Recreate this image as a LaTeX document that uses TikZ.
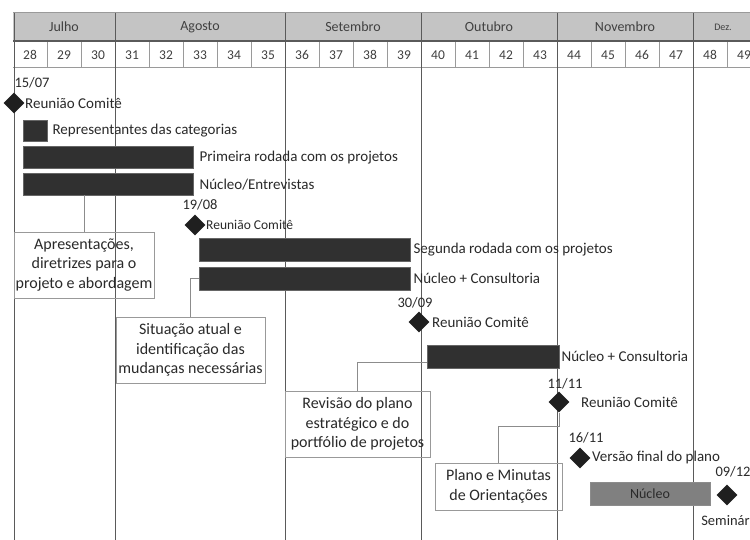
\documentclass[tikz,border=0pt]{standalone}
\usepackage{fontspec}
\setmainfont{Carlito}
\usetikzlibrary{shapes.geometric}
\definecolor{monthfill}{HTML}{C4C4C4}
\definecolor{txt}{HTML}{2A2A2A}
\definecolor{barcol}{HTML}{303030}
\definecolor{greybar}{HTML}{808080}
\definecolor{gridc}{HTML}{5A5A5A}
\definecolor{lightgrid}{HTML}{9A9A9A}
\begin{document}
\begin{tikzpicture}[x=1pt,y=-1pt,
  ms/.style={diamond, fill=black!88, minimum size=21pt, inner sep=0pt},
  bar/.style={fill=barcol, draw=black!60, anchor=north west, inner sep=0pt},
  lbl/.style={anchor=west, font=\fontsize{15}{17}\selectfont, text=txt, inner sep=1pt},
  datelbl/.style={font=\fontsize{14.5}{16}\selectfont, text=txt, inner sep=0pt},
  callout/.style={draw=black!40, align=center, font=\fontsize{16}{19.5}\selectfont, text=txt, inner sep=0pt},
  conn/.style={draw=black!45, line width=0.9pt},
  hdr/.style={font=\fontsize{14}{16}\selectfont, text=black!75, inner sep=0pt},
  chartline/.style={draw=gridc, line width=0.9pt}
]
\useasboundingbox (0,0) rectangle (750,540);
\fill[white] (0,0) rectangle (750,540);

% header
\fill[monthfill] (13,13) rectangle (770,41);
\foreach \i in {1,...,21}{
  \draw[lightgrid, line width=0.7pt] ({13+34*\i},41) -- ({13+34*\i},68);
}
\foreach \i [evaluate=\i as \w using int(28+\i)] in {0,...,21}{
  \node[hdr, font=\fontsize{13.5}{15}\selectfont] (w\i) at ({30+34*\i},55) {\w};
}
\draw[lightgrid, line width=1pt] (13,13) -- (770,13);
\draw[gridc, line width=1.3pt] (13,41) -- (770,41);
\draw[lightgrid, line width=1pt] (13,68) -- (770,68);

% month separators / chart lines
\foreach \x in {14,115,285,421,557,693}{
  \draw[chartline] (\x,13) -- (\x,540);
}
\node[hdr] (mjul) at (64,27) {Julho};
\node[hdr] (mago) at (200,27) {Agosto};
\node[hdr] (mset) at (353,27) {Setembro};
\node[hdr] (mout) at (489,27) {Outubro};
\node[hdr] (mnov) at (625,27) {Novembro};
\node[hdr, font=\fontsize{10}{12}\selectfont] (mdez) at (723,27) {Dez.};

% milestone 15/07
\node[datelbl] (d1) at (32,83) {15/07};
\node[ms] (m1) at (14,103) {};
\node[lbl] (t1) at (24,103) {Reunião Comitê};

% first bars
\node[bar, minimum width=24pt, minimum height=21pt] (b1) at (23,120) {};
\node[lbl] (tb1) at ([xshift=4pt]b1.east) {Representantes das categorias};
\node[bar, minimum width=170pt, minimum height=22pt] (b2) at (23,146) {};
\node[lbl] (tb2) at ([xshift=5pt]b2.east) {Primeira rodada com os projetos};
\node[bar, minimum width=170pt, minimum height=22pt] (b3) at (23,173) {};
\node[lbl] (tb3) at ([xshift=5pt]b3.east) {Núcleo/Entrevistas};

% milestone 19/08
\node[datelbl] (d2) at (200,205) {19/08};
\node[ms] (m2) at (195,225) {};
\node[lbl, font=\fontsize{13.5}{15}\selectfont] (t2) at (205,225) {Reunião Comitê};

\node[bar, minimum width=211pt, minimum height=23pt] (b4) at (199,238) {};
\node[lbl] (tb4) at ([xshift=2pt]b4.east) {Segunda rodada com os projetos};
\node[bar, minimum width=211pt, minimum height=23pt] (b5) at (199,267) {};
\node[lbl] (tb5) at ([xshift=2pt]b5.east) {Núcleo + Consultoria};

% milestone 30/09
\node[datelbl] (d3) at (415,303) {30/09};
\node[ms] (m3) at (419,322) {};
\node[lbl] (t3) at (431,322) {Reunião Comitê};

\node[bar, minimum width=132pt, minimum height=23pt] (b6) at (427,345) {};
\node[lbl] (tb6) at ([xshift=1pt]b6.east) {Núcleo + Consultoria};

% milestone 11/11
\node[datelbl] (d4) at (565,384) {11/11};
\node[ms] (m4) at (559,402) {};
\node[lbl] (t4) at (580,402) {Reunião Comitê};

% milestone 16/11
\node[datelbl] (d5) at (586,438) {16/11};
\node[ms] (m5) at (580,458) {};
\node[lbl] (t5) at (591,457) {Versão final do plano};

% Núcleo grey bar
\node[fill=greybar, draw=black!45, minimum width=120pt, minimum height=23pt, inner sep=0pt,
      font=\fontsize{14}{16}\selectfont, text=txt] (b7) at (650,493.5) {Núcleo};

% milestone 09/12
\node[datelbl] (d6) at (733,472) {09/12};
\node[ms] (m6) at (727,495) {};
\node[datelbl] (t6) at (731,521) {Seminário};

% callout boxes
\node[callout, minimum width=140pt, minimum height=66pt] (c1) at (84,265)
  {Apresentações,\\diretrizes para o\\projeto e abordagem};
\node[callout, minimum width=149pt, minimum height=66pt] (c2) at (190.5,350)
  {Situação atual e\\identificação das\\mudanças necessárias};
\node[callout, minimum width=145pt, minimum height=66pt] (c3) at (357.5,424)
  {Revisão do plano\\estratégico e do\\portfólio de projetos};
\node[callout, minimum width=127pt, minimum height=47pt] (c4) at (498.5,486.5)
  {Plano e Minutas\\de Orientações};

% connectors
\draw[conn] (c1.north) -- (c1.north |- b3.south);
\draw[conn] (c2.north) |- (b5.west);
\draw[conn] (c3.north) |- ([yshift=-6pt]b6.west);
\coordinate (k4) at (559,426);
\draw[conn] (c4.north) |- (k4) -- (m4.south);
\end{tikzpicture}
\end{document}
